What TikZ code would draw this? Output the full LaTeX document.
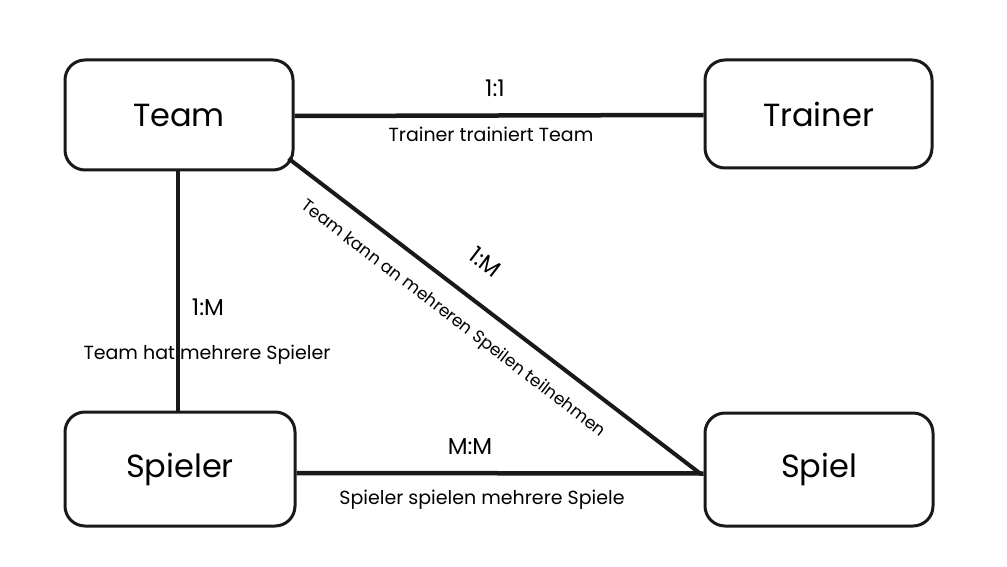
\documentclass[tikz,border=0pt]{standalone}
\usepackage{fontspec}
\setmainfont{Poppins}
\begin{document}
\begin{tikzpicture}[x=1pt,y=-1pt,
  entity/.style={draw=black!90,line width=3pt,rounded corners=20pt,fill=white,inner sep=0pt,font=\fontsize{32}{36}\selectfont},
  rel/.style={draw=black!90,line width=4.5pt},
  card/.style={font=\fontsize{23}{27}\selectfont},
  desc/.style={font=\fontsize{19}{22}\selectfont}]
\useasboundingbox[fill=white] (0,0) rectangle (1007,567);
\node[entity,minimum width=228pt,minimum height=110pt] (team) at (179,115) {Team};
\node[entity,minimum width=227pt,minimum height=108pt] (trainer) at (818.5,114) {Trainer};
\node[entity,minimum width=230pt,minimum height=114pt] (spieler) at (180,469) {Spieler};
\node[entity,minimum width=228pt,minimum height=113pt] (spiel) at (819,469.5) {Spiel};
\coordinate (tse) at ([shift={(-6pt,13pt)}]team.south east);
\coordinate (sw) at ([shift={(-2pt,-5pt)}]spiel.west);
\draw[rel] ([yshift=-1pt]team.east) -- ([yshift=-1pt]trainer.west);
\draw[rel] ([xshift=-1pt]team.south) -- ([xshift=-2pt]spieler.north);
\draw[rel,line width=4pt] (tse) -- (sw);
\draw[rel] ([yshift=-4pt]spieler.east) -- ([yshift=-4pt]spiel.west);
\node[card] (l1) at (495,88) {1:1};
\node[desc] (d1) at (491,134) {Trainer trainiert Team};
\node[card] (l2) at (208,307) {1:M};
\node[desc] (d2) at (207,355) {Team hat mehrere Spieler};
\node[card,rotate=-37.4] (l3) at (485,262) {1:M};
\node[desc,font=\fontsize{17}{20}\selectfont,rotate=-37.4] (d3) at (453,319) {Team kann an mehreren Speilen teilnehmen};
\node[card] (l4) at (470,447) {M:M};
\node[desc] (d4) at (482,500) {Spieler spielen mehrere Spiele};
\end{tikzpicture}
\end{document}
